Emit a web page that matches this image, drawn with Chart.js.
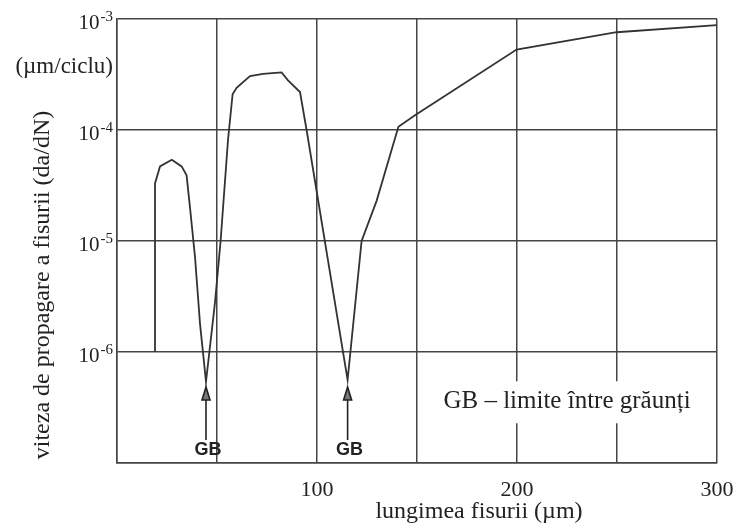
<!DOCTYPE html>
<html>
<head>
<meta charset="utf-8">
<script src="https://cdn.jsdelivr.net/npm/chart.js@4"></script>
<style>
  html, body { margin: 0; padding: 0; background: #fff; }
  #myChart { display: block; }
</style>
</head>
<body>
<canvas id="myChart" width="733" height="528"></canvas>
<script>
// crack length (um) and growth rate da/dN (um/cycle)
const crackLength = [19, 19, 21.5, 27.4, 32.3, 34.8, 36.5, 39, 41.5, 44.5, 49, 51.8, 55.5, 57.8, 59.8, 66.5, 73, 82.3, 85.5, 91.5, 94.8, 115.3, 122.3, 129.8, 140.7, 149, 199.8, 249.8, 300];
const growthRate = [1e-6, 3.3e-5, 4.7e-5, 5.4e-5, 4.7e-5, 3.9e-5, 2.0e-5, 7.2e-6, 1.8e-6, 5.4e-7, 2.8e-6, 1e-5, 8.1e-5, 2.1e-4, 2.4e-4, 3.06e-4, 3.2e-4, 3.3e-4, 2.8e-4, 2.2e-4, 1e-4, 5.6e-7, 1e-5, 2.3e-5, 1.07e-4, 1.36e-4, 5.3e-4, 7.6e-4, 8.8e-4];

// grain boundaries (GB) marked with arrows
const gbPositions = [44.5, 115.3];

// axis ticks
const xTickLabels = [100, 200, 300];
const yDecades = [-7, -6, -5, -4, -3];
const yLabelledDecades = [-6, -5, -4, -3];

const gridColor = "#454545";
const inkColor = "#222";

const points = crackLength.map((x, i) => ({ x: x, y: growthRate[i] }));

const extraText = {
  id: "extraText",
  afterDraw(chart) {
    const ctx = chart.ctx;
    const xs = chart.scales.x;
    const ys = chart.scales.y;
    ctx.save();
    ctx.fillStyle = inkColor;

    // y tick labels 10^n with superscript exponent
    yLabelledDecades.forEach(function(e) {
      const py = ys.getPixelForValue(Math.pow(10, e));
      const exp = "-" + Math.abs(e);
      ctx.font = "15px 'Liberation Serif'";
      const ew = ctx.measureText(exp).width;
      ctx.textAlign = "right";
      ctx.textBaseline = "alphabetic";
      ctx.fillText(exp, 113, py + 2);
      ctx.font = "21px 'Liberation Serif'";
      ctx.fillText("10", 113 - ew - 1, py + 10);
    });

    // unit under the top label
    ctx.font = "23px 'Liberation Serif'";
    ctx.textAlign = "right";
    ctx.textBaseline = "middle";
    ctx.fillText("(\u00b5m/ciclu)", 113, 67);

    // y title
    ctx.save();
    ctx.translate(43, 285);
    ctx.rotate(-Math.PI / 2);
    ctx.textAlign = "center";
    ctx.textBaseline = "middle";
    ctx.font = "24px 'Liberation Serif'";
    ctx.fillText("viteza de propagare a fisurii (da/dN)", 0, 0);
    ctx.restore();

    // x title
    ctx.textAlign = "center";
    ctx.textBaseline = "middle";
    ctx.font = "24px 'Liberation Serif'";
    ctx.fillText("lungimea fisurii (\u00b5m)", 479, 512);

    // GB arrows
    ctx.strokeStyle = inkColor;
    ctx.lineWidth = 1.6;
    gbPositions.forEach(function(g) {
      const px = xs.getPixelForValue(g);
      ctx.beginPath();
      ctx.moveTo(px, 440);
      ctx.lineTo(px, 396);
      ctx.stroke();
      ctx.beginPath();
      ctx.moveTo(px, 387);
      ctx.lineTo(px - 4, 400);
      ctx.lineTo(px + 4, 400);
      ctx.closePath();
      ctx.fillStyle = "#777";
      ctx.fill();
      ctx.stroke();
      ctx.fillStyle = inkColor;
      ctx.font = "bold 18px 'Liberation Sans'";
      ctx.textAlign = "center";
      ctx.textBaseline = "middle";
      ctx.fillText("GB", px + 2, 450);
    });

    // legend note with white box
    const note = "GB \u2013 limite \u00eentre gr\u0103un\u021bi";
    ctx.font = "25px 'Liberation Serif'";
    const nx = xs.getPixelForValue(225);
    const ny = ys.getPixelForValue(3.6e-7);
    const nw = ctx.measureText(note).width;
    ctx.fillStyle = "#fff";
    ctx.fillRect(nx - nw / 2 - 8, ny - 20, nw + 16, 42);
    ctx.fillStyle = inkColor;
    ctx.textAlign = "center";
    ctx.textBaseline = "middle";
    ctx.fillText(note, nx, ny);

    ctx.restore();
  }
};

new Chart("myChart", {
  type: "line",
  data: {
    datasets: [{
      data: points,
      borderColor: "#333",
      borderWidth: 1.8,
      pointRadius: 0,
      tension: 0,
      fill: false
    }]
  },
  options: {
    responsive: false,
    animation: false,
    layout: { padding: { top: 19, right: 16, left: 0, bottom: 0 } },
    plugins: {
      legend: { display: false },
      tooltip: { enabled: false }
    },
    scales: {
      x: {
        type: "linear",
        min: 0,
        max: 300,
        grid: { color: gridColor, lineWidth: 1.5, drawTicks: false },
        border: { color: gridColor, width: 1.5 },
        ticks: {
          stepSize: 50,
          autoSkip: false,
          maxRotation: 0,
          padding: 14,
          color: inkColor,
          font: { family: "'Liberation Serif'", size: 22 },
          callback: v => xTickLabels.includes(v) ? String(v) : ""
        },
        afterFit: s => {
          s.height = 65;
          s.paddingLeft = 0;
          s.paddingRight = 0;
        }
      },
      y: {
        type: "logarithmic",
        min: 1e-7,
        max: 1e-3,
        afterBuildTicks: s => {
          s.ticks = yDecades.map(e => ({ value: Math.pow(10, e) }));
        },
        grid: { color: gridColor, lineWidth: 1.5, drawTicks: false },
        border: { color: gridColor, width: 1.5 },
        ticks: { display: false },
        afterFit: s => {
          s.width = 117;
          s.paddingTop = 0;
          s.paddingBottom = 0;
        }
      }
    }
  },
  plugins: [extraText]
});
</script>
</body>
</html>
